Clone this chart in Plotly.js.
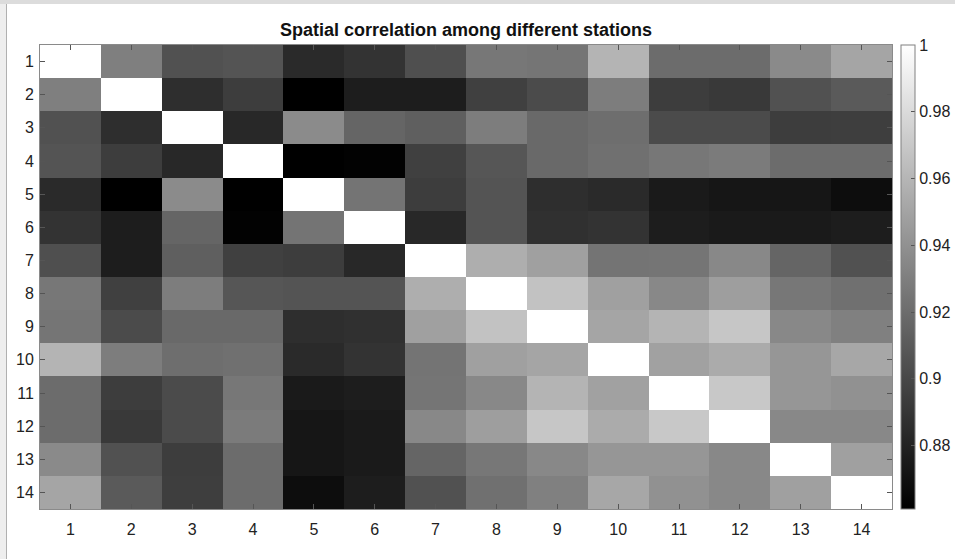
<!DOCTYPE html>
<html>
<head>
<meta charset="utf-8">
<script src="https://cdn.plot.ly/plotly-3.0.1.min.js"></script>
<style>
  html, body { margin: 0; padding: 0; background: #ffffff; }
  #wrap { position: relative; width: 955px; height: 559px; }
  #chart { width: 955px; height: 559px; }
  #frameTop { position: absolute; left: 0; top: 0; width: 955px; height: 4px; background: #dcdcdc; pointer-events: none; }
  #frameLeft { position: absolute; left: 0; top: 0; width: 6px; height: 559px; background: #eeeeee; border-right: 1px solid #b0b0b0; pointer-events: none; }
</style>
</head>
<body>
<div id="wrap">
  <div id="chart"></div>
  <div id="frameLeft"></div>
  <div id="frameTop"></div>
</div>
<script>
// Station labels
const stations = [1, 2, 3, 4, 5, 6, 7, 8, 9, 10, 11, 12, 13, 14];
const colorbarTicks = [0.88, 0.9, 0.92, 0.94, 0.96, 0.98, 1];
const colorbarTickText = ['0.88', '0.9', '0.92', '0.94', '0.96', '0.98', '1'];

// Correlation matrix rows (station i vs stations 1..14)
const corrRow1  = [1.000, 0.930, 0.905, 0.907, 0.884, 0.889, 0.904, 0.926, 0.925, 0.959, 0.920, 0.920, 0.936, 0.951];
const corrRow2  = [0.930, 1.000, 0.886, 0.894, 0.861, 0.877, 0.877, 0.896, 0.902, 0.929, 0.894, 0.892, 0.905, 0.910];
const corrRow3  = [0.905, 0.886, 1.000, 0.883, 0.937, 0.916, 0.913, 0.929, 0.918, 0.921, 0.902, 0.902, 0.894, 0.895];
const corrRow4  = [0.907, 0.894, 0.883, 1.000, 0.861, 0.862, 0.896, 0.908, 0.918, 0.922, 0.926, 0.928, 0.920, 0.920];
const corrRow5  = [0.884, 0.861, 0.937, 0.861, 1.000, 0.924, 0.894, 0.907, 0.886, 0.884, 0.875, 0.873, 0.873, 0.868];
const corrRow6  = [0.889, 0.877, 0.916, 0.862, 0.924, 1.000, 0.883, 0.907, 0.887, 0.889, 0.877, 0.875, 0.875, 0.877];
const corrRow7  = [0.904, 0.877, 0.913, 0.896, 0.894, 0.883, 1.000, 0.956, 0.948, 0.924, 0.925, 0.935, 0.916, 0.905];
const corrRow8  = [0.926, 0.896, 0.929, 0.908, 0.907, 0.907, 0.956, 1.000, 0.967, 0.948, 0.935, 0.947, 0.926, 0.922];
const corrRow9  = [0.925, 0.902, 0.918, 0.918, 0.886, 0.887, 0.948, 0.967, 1.000, 0.951, 0.959, 0.969, 0.935, 0.931];
const corrRow10 = [0.959, 0.929, 0.921, 0.922, 0.884, 0.889, 0.924, 0.948, 0.951, 1.000, 0.949, 0.954, 0.943, 0.952];
const corrRow11 = [0.920, 0.894, 0.902, 0.926, 0.875, 0.877, 0.925, 0.935, 0.959, 0.949, 1.000, 0.970, 0.943, 0.940];
const corrRow12 = [0.920, 0.892, 0.902, 0.928, 0.873, 0.875, 0.935, 0.947, 0.969, 0.954, 0.970, 1.000, 0.935, 0.935];
const corrRow13 = [0.936, 0.905, 0.894, 0.920, 0.873, 0.875, 0.916, 0.926, 0.935, 0.943, 0.943, 0.935, 1.000, 0.948];
const corrRow14 = [0.951, 0.910, 0.895, 0.920, 0.868, 0.877, 0.905, 0.922, 0.931, 0.952, 0.940, 0.935, 0.948, 1.000];

const z = [corrRow1, corrRow2, corrRow3, corrRow4, corrRow5, corrRow6, corrRow7,
           corrRow8, corrRow9, corrRow10, corrRow11, corrRow12, corrRow13, corrRow14];

const fontFamily = 'Liberation Sans, Arial, Helvetica, sans-serif';

const trace = {
  type: 'heatmap',
  x: stations,
  y: stations,
  z: z,
  colorscale: [[0, '#000000'], [1, '#ffffff']],
  showscale: true,
  colorbar: {
    x: 1.0106, xanchor: 'left', xref: 'paper',
    y: 0.5, yanchor: 'middle',
    len: 1, lenmode: 'fraction',
    thickness: 14, thicknessmode: 'pixels',
    xpad: 0, ypad: 0,
    outlinecolor: '#808080', outlinewidth: 1,
    ticks: 'inside', ticklen: 4, tickcolor: '#555555', tickwidth: 1,
    tickvals: colorbarTicks, ticktext: colorbarTickText,
    tickfont: { family: fontFamily, size: 16, color: '#222222' }
  }
};

const axisCommon = {
  showline: true, linecolor: '#8a8a8a', linewidth: 1, mirror: 'ticks',
  ticks: 'inside', ticklen: 5, tickcolor: '#555555', tickwidth: 1,
  showgrid: false, zeroline: false,
  tickmode: 'array', tickvals: stations, ticktext: stations.map(String),
  tickfont: { family: fontFamily, size: 16, color: '#222222' }
};

const layout = {
  width: 955, height: 559,
  margin: { l: 40, r: 63, t: 45, b: 50, autoexpand: false },
  paper_bgcolor: '#ffffff',
  plot_bgcolor: '#ffffff',
  title: {
    text: 'Spatial correlation among different stations',
    font: { family: fontFamily, size: 18, color: '#111111', weight: 'bold' },
    x: 0.5, xref: 'paper', xanchor: 'center',
    y: 0.946, yref: 'container', yanchor: 'middle'
  },
  xaxis: Object.assign({}, axisCommon, { range: [0.5, 14.5], ticklabelstandoff: 6 }),
  yaxis: Object.assign({}, axisCommon, { range: [14.5, 0.5], ticklabelstandoff: 2 })
};

Plotly.newPlot('chart', [trace], layout, { displayModeBar: false, staticPlot: true });
</script>
</body>
</html>
